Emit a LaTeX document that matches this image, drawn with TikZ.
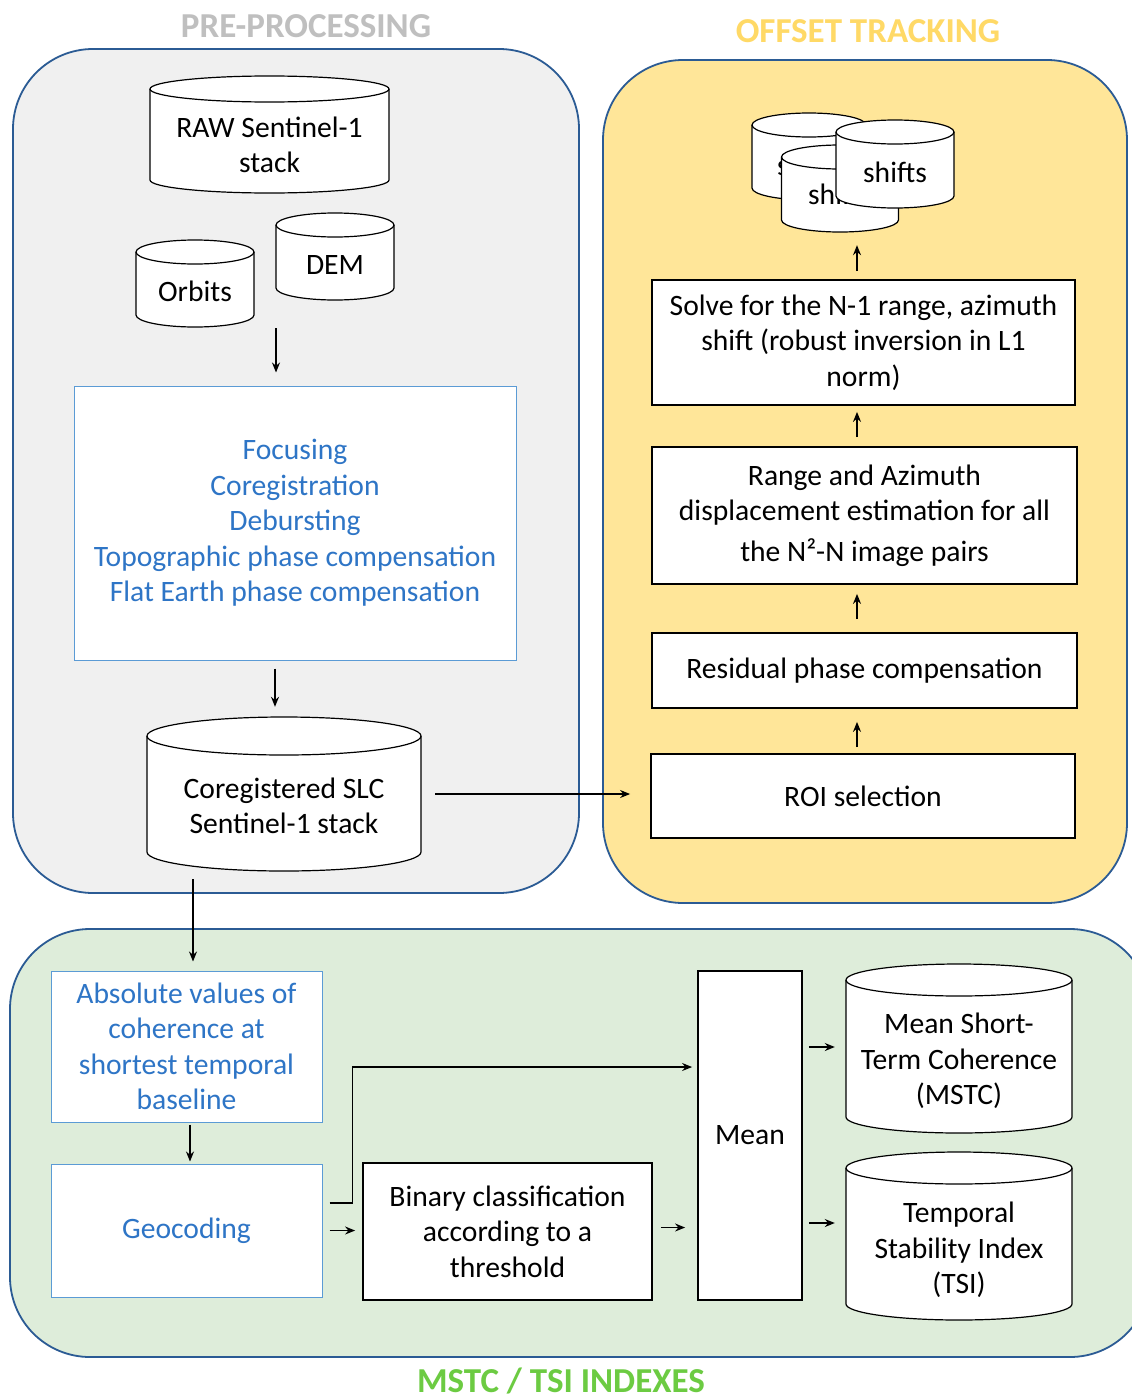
\documentclass[tikz,border=0pt]{standalone}
\usepackage{fontspec}
\setmainfont{Carlito}
\usetikzlibrary{arrows.meta}
\definecolor{panelborder}{HTML}{2B5B94}
\definecolor{prefill}{HTML}{F0F0F0}
\definecolor{offfill}{HTML}{FFE699}
\definecolor{mstcfill}{HTML}{DEEDDA}
\definecolor{bluetext}{HTML}{2E75C6}
\definecolor{boxblue}{HTML}{5B9BD5}
\definecolor{pretitle}{HTML}{BFBFBF}
\definecolor{offtitle}{HTML}{FFD966}
\definecolor{mstctitle}{HTML}{6CCB42}
\tikzset{
 base/.style={font=\fontsize{29.6}{35.5}\selectfont, align=center, inner sep=0pt},
 panel/.style={draw=panelborder, line width=1.8pt, rounded corners=80pt, inner sep=0pt},
 title/.style={font=\fontsize{35}{40}\selectfont\bfseries, inner sep=0pt},
 blackbox/.style={base, draw=black, line width=1.8pt, fill=white},
 bluebox/.style={base, draw=boxblue, line width=1pt, fill=white, text=bluetext},
 cylline/.style={draw=black, line width=1.2pt, fill=white},
 arr/.style={-{Stealth[length=10pt,width=8pt]}, line width=1.4pt},
}
\newcommand\drawcyl[8]{%
 \path[cylline] (#2-#5,#3+#6) -- (#2-#5,#4-#6) arc[start angle=180,end angle=0,x radius=#5,y radius=#6] -- (#2+#5,#3+#6) arc[start angle=0,end angle=-180,x radius=#5,y radius=#6] -- cycle;
 \draw[line width=1.2pt] (#2-#5,#3+#6) arc[start angle=180,end angle=0,x radius=#5,y radius=#6];
 \node[minimum width={2*#5*1pt}, minimum height={(#4-#3)*1pt}, inner sep=0pt] (#1) at (#2,{(#3+#4)/2}) {};
 \node[base] (#1-text) at (#2,#7) {#8};
}
\begin{document}
\begin{tikzpicture}[x=1pt,y=1pt,yscale=-1]
\clip (0,0) rectangle (1132,1400);
\fill[white] (0,0) rectangle (1132,1400);
% panels
\node[panel, fill=prefill, minimum width=566pt, minimum height=844pt] (pre) at (296,471) {};
\node[panel, fill=offfill, minimum width=524pt, minimum height=843pt] (off) at (865,481.5) {};
\node[panel, fill=mstcfill, minimum width=1140pt, minimum height=428pt] (mstc) at (580,1143) {};
% titles
\node[title, text=pretitle] (pretitle) at (306,26) {PRE-PROCESSING};
\node[title, text=offtitle] (offtitle) at (868,31) {OFFSET TRACKING};
\node[title, text=mstctitle] (mstctitle) at (561,1381) {MSTC / TSI INDEXES};
% pre-processing
\drawcyl{raw}{269.5}{76}{193}{119.5}{13}{145}{RAW Sentinel-1\\stack}
\drawcyl{dem}{335}{213}{300}{59}{12}{265}{DEM}
\drawcyl{orbits}{195}{240}{327}{59}{12}{291}{Orbits}
\node[bluebox, minimum width=442pt, minimum height=274pt] (focus) at (295,523) {Focusing\\Coregistration\\Debursting\\Topographic phase compensation\\Flat Earth phase compensation};
\drawcyl{coreg}{284}{717}{871}{137}{19}{806}{Coregistered SLC\\Sentinel-1 stack}
% offset tracking
\drawcyl{shiftA}{809}{113}{200}{57}{12}{165}{shifts}
\drawcyl{shiftB}{840}{145}{232}{58.5}{12}{194}{shifts}
\drawcyl{shiftC}{895}{120}{208}{59}{12}{172}{shifts}
\node[blackbox, minimum width=423pt, minimum height=125pt] (solve) at (863.5,342.5) {Solve for the N-1 range, azimuth\\shift (robust inversion in L1\\norm)};
\node[blackbox, minimum width=425pt, minimum height=137pt] (range) at (864.5,515.5) {Range and Azimuth\\displacement estimation for all\\[5pt]the N²-N image pairs};
\node[blackbox, minimum width=425pt, minimum height=75pt] (resid) at (864.5,670.5) {Residual phase compensation};
\node[blackbox, minimum width=424pt, minimum height=84pt] (roi) at (863,796) {ROI selection};
% mstc / tsi
\node[bluebox, minimum width=271pt, minimum height=151pt] (abs) at (186.5,1046.5) {Absolute values of\\coherence at\\shortest temporal\\baseline};
\node[bluebox, minimum width=271pt, minimum height=133pt] (geo) at (186.5,1230.5) {Geocoding};
\node[blackbox, minimum width=289pt, minimum height=137pt] (bin) at (507.5,1231.5) {Binary classification\\according to a\\threshold};
\node[blackbox, minimum width=104pt, minimum height=329pt] (mean) at (750,1135.5) {Mean};
\drawcyl{mstcc}{959}{964}{1133}{113}{16}{1061}{Mean Short-\\Term Coherence\\(MSTC)}
\drawcyl{tsi}{959}{1152}{1320}{113}{16}{1250}{Temporal\\Stability Index\\(TSI)}
% connectors
\coordinate (c1) at (276,328);
\draw[arr, shorten >=13pt] (c1) -- (c1 |- focus.north);
\draw[arr, shorten <=8pt, shorten >=10pt] ([xshift=-20pt]focus.south) -- ([xshift=-9pt]coreg.north);
\draw[arr, shorten <=14pt, shorten >=20pt] (coreg.east) -- (coreg.east -| roi.west);
\draw[arr, shorten <=8pt, shorten >=9pt] ([xshift=6.5pt]abs.north |- coreg.south) -- ([xshift=6.5pt]abs.north);
\draw[arr, shorten <=6pt, shorten >=13pt] ([xshift=-6pt]roi.north) -- ([xshift=-6pt]roi.north |- resid.south);
\draw[arr, shorten <=13pt, shorten >=9pt] ([xshift=-7.5pt]resid.north) -- ([xshift=-7.5pt]resid.north |- range.south);
\draw[arr, shorten <=9pt, shorten >=6pt] ([xshift=-7.5pt]range.north) -- ([xshift=-7.5pt]range.north |- solve.south);
\draw[arr, shorten <=8pt, shorten >=13pt] ([xshift=-6.5pt]solve.north) -- ([xshift=-6.5pt]solve.north |- shiftB.south);
\draw[arr, shorten <=2pt, shorten >=2pt] ([xshift=3.5pt]abs.south) -- ([xshift=3.5pt]geo.north);
\draw[arr] ([xshift=7pt, yshift=-27.5pt]geo.east) -- ++(23,0) |- ([xshift=-5pt, yshift=-68.5pt]mean.west);
\draw[arr, shorten <=7pt, shorten >=7pt] (geo.east) -- (geo.east -| bin.west);
\draw[arr, shorten <=8pt, shorten >=12pt] ([yshift=-4pt]bin.east) -- ([yshift=-4pt]bin.east -| mean.west);
\draw[arr, shorten <=6pt, shorten >=11pt] ([yshift=-88.5pt]mean.east) -- ([yshift=-88.5pt]mean.east -| mstcc.west);
\draw[arr, shorten <=6pt, shorten >=11pt] ([yshift=87.5pt]mean.east) -- ([yshift=87.5pt]mean.east -| tsi.west);
\end{tikzpicture}
\end{document}
